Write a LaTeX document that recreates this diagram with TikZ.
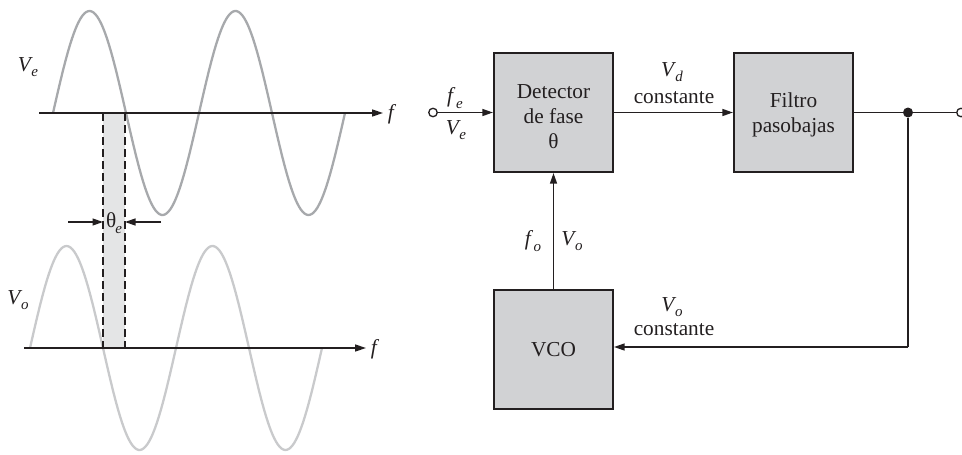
\documentclass[tikz,border=0pt]{standalone}
\usepackage{fontspec}
\setmainfont{Liberation Serif}
\newfontfamily\tmsfont{Liberation Serif}
\usetikzlibrary{arrows.meta}
\definecolor{boxfill}{HTML}{D1D2D4}
\definecolor{boxline}{HTML}{231F20}
\definecolor{waveA}{HTML}{A7A9AC}
\definecolor{waveB}{HTML}{C9CACC}
\definecolor{shadecol}{HTML}{E4E5E6}
\newcommand{\sbs}[3]{\textit{#1}\kern#3\raisebox{-0.25em}{\fontsize{15}{15}\selectfont\textit{#2}}}
\begin{document}
\begin{tikzpicture}[x=1pt,y=-1pt,
  every node/.style={font=\tmsfont\fontsize{21.3}{25}\selectfont, text=boxline},
  block/.style={draw=boxline, fill=boxfill, line width=2.2pt, minimum width=119pt, minimum height=119pt, inner sep=0pt},
  btext/.style={align=center, inner sep=0pt},
  conn/.style={line width=1.3pt, draw=boxline},
  tip/.style={-{Triangle[length=10.5pt,width=7pt]}},
  lbl/.style={inner sep=0pt},
  port/.style={circle, draw=boxline, fill=white, line width=1.3pt, minimum size=8.5pt, inner sep=0pt},
  junc/.style={circle, fill=boxline, minimum size=10pt, inner sep=0pt},
  wave/.style={line width=2.3pt},
  axis/.style={line width=1.6pt, draw=boxline, -{Triangle[length=11pt,width=7pt]}},
  guide/.style={line width=1.2pt, draw=boxline, dash pattern=on 8pt off 4pt}
]
\useasboundingbox (0,0) rectangle (962,455);
% ---- waveforms ----
\fill[shadecol] (103,113) rectangle (125,348);
\draw[wave, waveA] plot[domain=0:292, samples=160, smooth] ({53+\x},{113-102*sin((\x/146)*360)});
\draw[wave, waveB] plot[domain=0:292, samples=160, smooth] ({30+\x},{348-102*sin((\x/146)*360)});
\coordinate (d1t) at (103,113);
\coordinate (d1b) at (103,348);
\coordinate (d2t) at (125,113);
\coordinate (d2b) at (125,348);
\draw[guide] (d1t) -- (d1b);
\draw[guide] (d2t) -- (d2b);
\coordinate (ax1s) at (39,113);
\coordinate (ax1e) at (383,113);
\coordinate (ax2s) at (24,348);
\coordinate (ax2e) at (366,348);
\draw[axis] (ax1s) -- (ax1e);
\draw[axis] (ax2s) -- (ax2e);
\node[lbl] (f1) at (392,114) {\textit{f}};
\node[lbl] (f2) at (375,349) {\textit{f}};
\node[lbl] (lVe) at (28,67) {\sbs{V}{e}{-1.5pt}};
\node[lbl] (lVo) at (18,300) {\sbs{V}{o}{-1.5pt}};
\coordinate (th1) at (68,222);
\coordinate (th2) at (161,222);
\coordinate (th1e) at (103,222);
\coordinate (th2e) at (125,222);
\draw[conn,tip] (th1) -- (th1e);
\draw[conn,tip] (th2) -- (th2e);
\node[lbl] (the) at (114,223) {θ\kern-1pt\raisebox{-0.25em}{\fontsize{15}{15}\selectfont\textit{e}}};
% ---- block diagram ----
\node[block] (det) at (553.5,112.5) {};
\node[block] (fil) at (793.5,112.5) {};
\node[block] (vco) at (553.5,349.5) {};
\node[btext] (detT) at (553.5,117) {Detector\\de fase\\θ};
\node[btext] (filT) at (793.5,115) {Filtro\\pasobajas};
\node[btext] (vcoT) at (553.5,349.5) {VCO};
\node[port] (in) at (433,112.5) {};
\node[port] (out) at (961,112.5) {};
\node[junc] (j) at (908,112.5) {};
\coordinate (corner) at (908,347);
\draw[conn,tip] (in) -- (det);
\draw[conn,tip] (det) -- (fil);
\draw[conn] (fil) -- (j) -- (out);
\draw[conn] (j) -- (corner);
\draw[conn,tip] (corner) -- (corner -| vco.east);
\draw[conn,tip] (vco) -- (det);
\node[lbl] (lfe) at (455,98) {\sbs{f}{e}{0.5pt}};
\node[lbl] (lVe2) at (456,130) {\sbs{V}{e}{-1.5pt}};
\node[lbl] (lVd) at (672,72) {\sbs{V}{d}{-1pt}};
\node[lbl] (lc1) at (674,98) {constante};
\node[lbl] (lfo) at (533,241) {\sbs{f}{o}{0.5pt}};
\node[lbl] (lVo2) at (572,241) {\sbs{V}{o}{-1.5pt}};
\node[lbl] (lVo3) at (672,307) {\sbs{V}{o}{-1.5pt}};
\node[lbl] (lc2) at (674,330) {constante};
\end{tikzpicture}
\end{document}
